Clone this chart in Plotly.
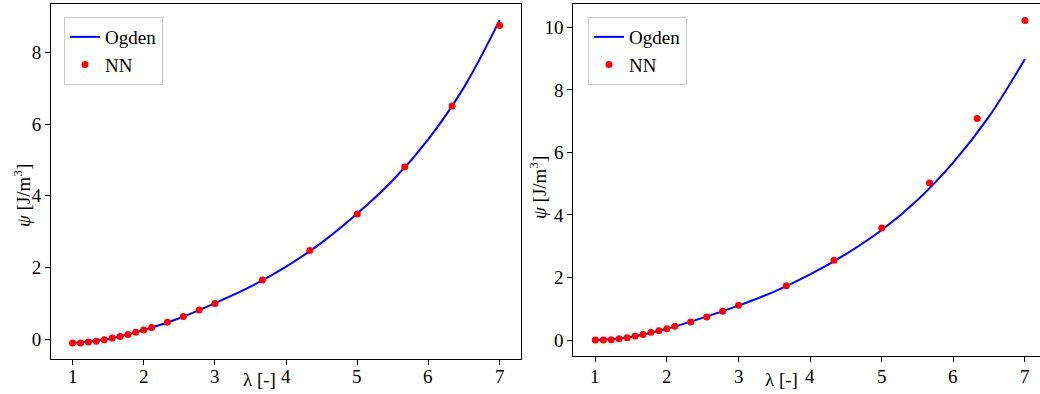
import plotly.graph_objects as go

# Stretch values (x axis) for NN points
lam_nn = [1.0, 1.111, 1.222, 1.333, 1.444, 1.556, 1.667, 1.778, 1.889, 2.0, 2.111,
          2.333, 2.556, 2.778, 3.0, 3.667, 4.333, 5.0, 5.667, 6.333, 7.0]
# Left panel NN values
nn_left = [-0.11, -0.11, -0.08, -0.06, -0.02, 0.03, 0.07, 0.13, 0.19, 0.25, 0.32,
           0.47, 0.63, 0.81, 0.99, 1.65, 2.47, 3.49, 4.80, 6.50, 8.75]
# Right panel NN values
nn_right = [0.0, 0.0, 0.01, 0.04, 0.07, 0.13, 0.18, 0.25, 0.30, 0.36, 0.44,
            0.58, 0.74, 0.92, 1.11, 1.74, 2.55, 3.58, 5.02, 7.08, 10.22]

# Ogden curve samples
lam_og = [1.0, 1.5, 2.0, 2.5, 3.0, 3.5, 4.0, 4.5, 5.0, 5.5, 6.0, 6.5, 7.0]
og_left = [-0.11, 0.0, 0.25, 0.58, 1.0, 1.46, 2.02, 2.69, 3.5, 4.43, 5.58, 7.03, 8.9]
og_right = [0.0, 0.1, 0.36, 0.71, 1.1, 1.55, 2.1, 2.75, 3.52, 4.48, 5.68, 7.15, 8.99]

x_ticks = [1, 2, 3, 4, 5, 6, 7]
y_ticks_left = [0, 2, 4, 6, 8]
y_ticks_right = [0, 2, 4, 6, 8, 10]

FONT = "'Liberation Serif', 'Times New Roman', Times, 'DejaVu Serif', serif"
W, H = 1040, 394
BLUE = "#0000ff"
RED = "#ff0000"

fig = go.Figure()

fig.add_trace(go.Scatter(x=lam_og, y=og_left, mode="lines", name="Ogden",
                         line=dict(color=BLUE, width=2, shape="spline"),
                         xaxis="x", yaxis="y", legend="legend"))
fig.add_trace(go.Scatter(x=lam_nn, y=nn_left, mode="markers", name="NN",
                         marker=dict(color=RED, size=7),
                         xaxis="x", yaxis="y", legend="legend"))
fig.add_trace(go.Scatter(x=lam_og, y=og_right, mode="lines", name="Ogden",
                         line=dict(color=BLUE, width=2, shape="spline"),
                         xaxis="x2", yaxis="y2", legend="legend2"))
fig.add_trace(go.Scatter(x=lam_nn, y=nn_right, mode="markers", name="NN",
                         marker=dict(color=RED, size=7),
                         xaxis="x2", yaxis="y2", legend="legend2"))

axis_common = dict(showgrid=False, zeroline=False, showline=True, linecolor="black",
                   linewidth=1, ticks="outside", ticklen=5, tickwidth=1,
                   tickcolor="black", tickfont=dict(family=FONT, size=19, color="black"))

legend_common = dict(xanchor="left", yanchor="top", bgcolor="white",
                     bordercolor="#cccccc", borderwidth=1,
                     font=dict(family=FONT, size=19, color="black"),
                     tracegroupgap=0, itemwidth=30)

fig.update_layout(
    width=W, height=H,
    margin=dict(l=0, r=0, t=0, b=0),
    paper_bgcolor="white", plot_bgcolor="white",
    font=dict(family=FONT, size=19, color="black"),
    xaxis=dict(domain=[51 / W, 521 / W], range=[0.697, 7.3], tickvals=x_ticks,
               showticklabels=False, mirror=True, anchor="y", **axis_common),
    yaxis=dict(domain=[(H - 359) / H, (H - 4) / H], range=[-0.557, 9.35],
               tickvals=y_ticks_left, mirror=True, anchor="x", **axis_common),
    xaxis2=dict(domain=[573.3 / W, 1.0], range=[0.693, 7.21], tickvals=x_ticks,
                showticklabels=False, mirror=True, anchor="y2", **axis_common),
    yaxis2=dict(domain=[(H - 356) / H, (H - 4) / H], range=[-0.51, 10.745],
                tickvals=y_ticks_right, mirror=False, anchor="x2", **axis_common),
    legend=dict(x=64 / W, y=1 - 17 / H, **legend_common),
    legend2=dict(x=588 / W, y=1 - 17 / H, **legend_common),
    showlegend=True,
)

# x tick labels placed through the axis scale (slightly closer to the axis, as in the reference)
for xref in ("x", "x2"):
    for t in x_ticks:
        fig.add_annotation(xref=xref, yref="paper", x=t, y=1 - 376 / H,
                           text=str(t), showarrow=False, xanchor="center", yanchor="middle",
                           font=dict(family=FONT, size=19, color="black"))

annots = [
    dict(text="λ [-]", x=259.5 / W, y=1 - 379 / H),
    dict(text="λ [-]", x=781.5 / W, y=1 - 379 / H),
    dict(text="<i>ψ</i> [J/m<sup>3</sup>]", x=22 / W, y=1 - 196 / H, textangle=-90),
    dict(text="<i>ψ</i> [J/m<sup>3</sup>]", x=538 / W, y=1 - 188 / H, textangle=-90),
]
for a in annots:
    fig.add_annotation(xref="paper", yref="paper", xanchor="center", yanchor="middle",
                       showarrow=False, font=dict(family=FONT, size=19, color="black"), **a)

fig.write_html("out.html")
